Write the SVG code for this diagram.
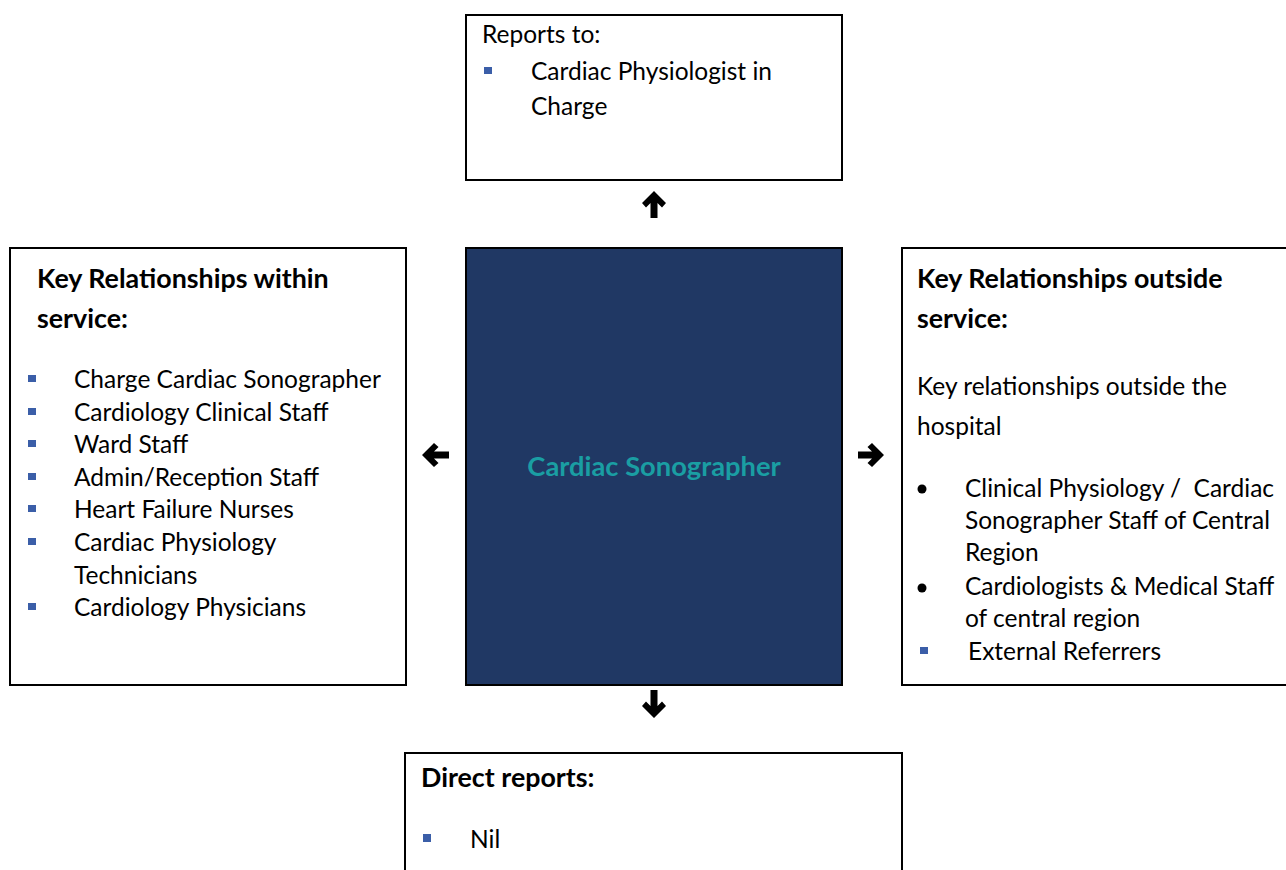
<svg xmlns="http://www.w3.org/2000/svg" width="1286" height="870" viewBox="0 0 1286 870">
<style>
.box{fill:#ffffff;stroke:#000000;stroke-width:2}
.core{fill:#203864;stroke:#000000;stroke-width:2}
.t{font-family:Lato,"Liberation Sans",sans-serif;font-size:24.5px;fill:#000000}
.b{font-family:Lato,"Liberation Sans",sans-serif;font-size:26.8px;font-weight:bold;fill:#000000}
.c{font-family:Lato,"Liberation Sans",sans-serif;font-size:27.3px;font-weight:bold;fill:#1a9ea3}
.sq{fill:#3b5ea8}
.arr{fill:#000000}
</style>
<rect width="1286" height="870" fill="#ffffff"/>
<g id="reports-to">
<rect class="box" x="466" y="15" width="376" height="165"/>
<text class="t" x="482" y="43">Reports to:</text>
<rect class="sq" x="484" y="67" width="8" height="7"/>
<text class="t" x="531" y="80">Cardiac Physiologist in</text>
<text class="t" x="531" y="115">Charge</text>
</g>
<g id="within">
<rect class="box" x="10" y="248" width="396" height="437"/>
<text class="b" x="37" y="288">Key Relationships within</text>
<text class="b" x="37" y="328">service:</text>
<rect class="sq" x="28" y="375" width="8" height="7"/>
<text class="t" x="74" y="388">Charge Cardiac Sonographer</text>
<rect class="sq" x="28" y="408" width="8" height="7"/>
<text class="t" x="74" y="421">Cardiology Clinical Staff</text>
<rect class="sq" x="28" y="440" width="8" height="7"/>
<text class="t" x="74" y="453">Ward Staff</text>
<rect class="sq" x="28" y="473" width="8" height="7"/>
<text class="t" x="74" y="486">Admin/Reception Staff</text>
<rect class="sq" x="28" y="505" width="8" height="7"/>
<text class="t" x="74" y="518">Heart Failure Nurses</text>
<rect class="sq" x="28" y="538" width="8" height="7"/>
<text class="t" x="74" y="551">Cardiac Physiology</text>
<text class="t" x="74" y="584">Technicians</text>
<rect class="sq" x="28" y="603" width="8" height="7"/>
<text class="t" x="74" y="616">Cardiology Physicians</text>
</g>
<g id="sonographer">
<rect class="core" x="466" y="248" width="376" height="437"/>
<text class="c" x="654" y="476" text-anchor="middle">Cardiac Sonographer</text>
</g>
<g id="outside">
<rect class="box" x="902" y="248" width="400" height="437"/>
<text class="b" x="917" y="288">Key Relationships outside</text>
<text class="b" x="917" y="328">service:</text>
<text class="t" x="917" y="395">Key relationships outside the</text>
<text class="t" x="917" y="435">hospital</text>
<circle cx="922" cy="489" r="4.5" fill="#000000"/>
<text class="t" x="965" y="497">Clinical Physiology /&#160; Cardiac</text>
<text class="t" x="965" y="529">Sonographer Staff of Central</text>
<text class="t" x="965" y="561">Region</text>
<circle cx="922" cy="588" r="4.5" fill="#000000"/>
<text class="t" x="965" y="595">Cardiologists &amp; Medical Staff</text>
<text class="t" x="965" y="627">of central region</text>
<rect class="sq" x="920" y="647" width="8" height="7"/>
<text class="t" x="968" y="660">External Referrers</text>
</g>
<g id="direct-reports">
<rect class="box" x="405" y="753" width="497" height="130"/>
<text class="b" x="421" y="787">Direct reports:</text>
<rect class="sq" x="423" y="834" width="8" height="8"/>
<text class="t" x="470" y="848">Nil</text>
</g>
<g id="connectors">
<path class="arr" d="M654 191 L666 203 L662 207.5 L657.5 203 L657.5 218 L650.5 218 L650.5 203 L646 207.5 L642 203 Z"/>
<path class="arr" d="M654 718 L666 706 L662 701.5 L657.5 706 L657.5 690 L650.5 690 L650.5 706 L646 701.5 L642 706 Z"/>
<path class="arr" d="M422 455 L434 443 L438.5 447 L434 451.5 L449 451.5 L449 458.5 L434 458.5 L438.5 463 L434 467 Z"/>
<path class="arr" d="M884 455 L872 443 L867.5 447 L872 451.5 L858 451.5 L858 458.5 L872 458.5 L867.5 463 L872 467 Z"/>
</g>
</svg>
